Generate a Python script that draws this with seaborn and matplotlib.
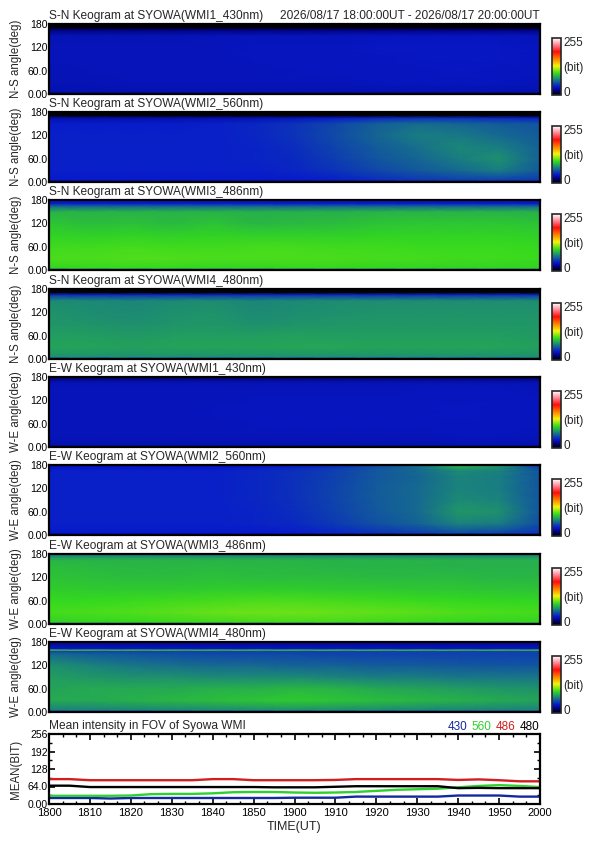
import matplotlib
matplotlib.use("Agg")
import matplotlib.pyplot as plt
from matplotlib.colors import LinearSegmentedColormap
from matplotlib.ticker import AutoMinorLocator, MultipleLocator
import seaborn as sns
import numpy as np
import pandas as pd

sns.set_theme(style="ticks")
plt.rcParams['font.family'] = ['Liberation Sans', 'DejaVu Sans']

# ---- data ----
# keogram grid nodes: time in minutes after 18:00 UT, angle in degrees
TIME_NODES = [0, 10, 20, 30, 40, 50, 60, 70, 80, 90, 100, 110, 120]
ANGLE_NODES = [0, 6, 30, 60, 90, 120, 150, 165, 171, 180]
ANGLE_NODES_EW4 = [0, 6, 30, 60, 90, 120, 150, 157, 160, 163, 171, 180]

# rows go from 0 deg (bottom) to 180 deg (top)
SN_430 = [
    [18, 18, 18, 18, 18, 18, 18, 18, 18, 18, 18, 18, 18],
    [32, 32, 32, 32, 32, 32, 32, 32, 32, 32, 32, 32, 32],
    [33, 33, 34, 34, 34, 34, 34, 34, 35, 35, 35, 35, 34],
    [33, 34, 34, 34, 34, 34, 35, 35, 35, 35, 36, 35, 35],
    [34, 34, 34, 34, 34, 35, 35, 35, 35, 36, 36, 36, 35],
    [34, 34, 34, 34, 34, 35, 35, 35, 36, 36, 36, 36, 35],
    [33, 33, 33, 33, 34, 34, 34, 34, 35, 35, 35, 35, 34],
    [20, 20, 20, 20, 20, 20, 20, 20, 20, 20, 20, 20, 20],
    [2, 2, 2, 2, 2, 2, 2, 2, 2, 2, 2, 2, 2],
    [0, 0, 0, 0, 0, 0, 0, 0, 0, 0, 0, 0, 0],
]
SN_560 = [
    [15, 15, 15, 15, 15, 15, 15, 15, 15, 18, 18, 18, 18],
    [38, 38, 38, 38, 38, 38, 38, 40, 44, 47, 50, 50, 48],
    [40, 40, 40, 40, 40, 40, 42, 46, 52, 57, 62, 68, 58],
    [40, 40, 40, 40, 40, 41, 43, 49, 56, 61, 68, 74, 60],
    [40, 40, 40, 40, 40, 41, 44, 51, 58, 64, 71, 68, 60],
    [40, 40, 40, 40, 40, 42, 46, 53, 61, 68, 67, 62, 58],
    [39, 39, 39, 39, 40, 42, 46, 52, 59, 63, 61, 58, 56],
    [30, 30, 30, 30, 31, 32, 34, 38, 42, 44, 44, 42, 40],
    [2, 2, 2, 2, 2, 2, 2, 2, 2, 2, 2, 2, 2],
    [0, 0, 0, 0, 0, 0, 0, 0, 0, 0, 0, 0, 0],
]
SN_486 = [
    [55, 55, 55, 55, 55, 55, 55, 55, 55, 55, 55, 55, 55],
    [96, 97, 97, 97, 96, 96, 97, 97, 96, 96, 95, 95, 95],
    [101, 101, 102, 102, 101, 101, 101, 101, 100, 100, 99, 99, 98],
    [99, 99, 100, 99, 99, 100, 100, 99, 99, 98, 98, 98, 97],
    [95, 94, 95, 94, 95, 94, 94, 94, 95, 95, 95, 95, 94],
    [91, 88, 89, 87, 90, 86, 87, 88, 90, 91, 91, 91, 90],
    [85, 85, 85, 85, 85, 84, 84, 84, 85, 85, 85, 85, 84],
    [60, 60, 60, 60, 60, 60, 60, 60, 60, 60, 60, 60, 60],
    [40, 40, 40, 40, 40, 40, 40, 40, 40, 40, 40, 40, 40],
    [32, 32, 32, 32, 32, 32, 32, 32, 32, 32, 32, 32, 32],
]
SN_480 = [
    [40, 40, 40, 40, 40, 40, 40, 40, 40, 40, 40, 40, 40],
    [74, 74, 74, 74, 74, 74, 74, 74, 74, 74, 74, 74, 74],
    [80, 80, 79, 80, 80, 80, 81, 81, 80, 80, 80, 80, 79],
    [78, 78, 77, 78, 78, 78, 79, 78, 78, 78, 78, 78, 77],
    [76, 75, 74, 75, 76, 74, 75, 76, 76, 76, 76, 76, 76],
    [75, 73, 72, 74, 75, 72, 73, 74, 75, 75, 75, 75, 75],
    [73, 72, 71, 72, 73, 71, 72, 73, 73, 73, 73, 73, 73],
    [45, 45, 45, 45, 45, 45, 45, 45, 45, 45, 45, 45, 45],
    [3, 3, 3, 3, 3, 3, 3, 3, 3, 3, 3, 3, 3],
    [0, 0, 0, 0, 0, 0, 0, 0, 0, 0, 0, 0, 0],
]
EW_430 = [
    [20, 20, 20, 20, 20, 20, 20, 20, 20, 20, 20, 20, 20],
    [32, 32, 32, 32, 32, 32, 32, 32, 32, 32, 32, 32, 32],
    [34, 34, 34, 34, 34, 34, 34, 34, 34, 34, 35, 35, 34],
    [34, 34, 34, 34, 34, 35, 35, 35, 35, 35, 35, 35, 35],
    [34, 34, 34, 34, 35, 35, 35, 35, 35, 35, 36, 35, 35],
    [34, 34, 34, 34, 34, 35, 35, 35, 35, 35, 35, 35, 35],
    [34, 34, 34, 34, 34, 34, 34, 34, 34, 35, 35, 35, 34],
    [33, 33, 33, 33, 33, 33, 33, 33, 33, 33, 33, 33, 33],
    [28, 28, 28, 28, 28, 28, 28, 28, 28, 28, 28, 28, 28],
    [15, 15, 15, 15, 15, 15, 15, 15, 15, 15, 15, 15, 15],
]
EW_560 = [
    [16, 16, 16, 16, 16, 16, 16, 16, 16, 16, 16, 16, 16],
    [38, 38, 38, 38, 38, 38, 39, 42, 46, 49, 54, 52, 46],
    [40, 40, 40, 40, 40, 41, 43, 48, 55, 60, 70, 68, 54],
    [40, 40, 40, 40, 40, 41, 44, 50, 57, 62, 76, 74, 56],
    [40, 40, 40, 40, 40, 42, 45, 51, 58, 62, 72, 70, 56],
    [40, 40, 40, 40, 40, 42, 45, 51, 58, 62, 70, 68, 56],
    [40, 40, 40, 40, 40, 42, 45, 50, 57, 61, 70, 68, 56],
    [40, 40, 40, 40, 40, 42, 45, 50, 57, 62, 72, 69, 56],
    [38, 38, 38, 38, 38, 40, 43, 48, 56, 63, 78, 72, 52],
    [32, 32, 32, 32, 32, 34, 37, 42, 52, 62, 86, 76, 46],
]
EW_486 = [
    [60, 60, 60, 60, 60, 60, 60, 60, 60, 60, 60, 60, 60],
    [95, 96, 97, 98, 99, 100, 100, 100, 99, 98, 97, 96, 96],
    [100, 101, 102, 104, 106, 107, 107, 106, 105, 104, 102, 101, 100],
    [97, 97, 98, 99, 100, 101, 101, 100, 99, 98, 97, 96, 96],
    [93, 92, 92, 92, 93, 93, 93, 92, 92, 91, 91, 90, 90],
    [90, 89, 88, 88, 89, 88, 88, 88, 87, 87, 87, 86, 86],
    [88, 87, 86, 86, 87, 86, 86, 85, 85, 85, 84, 84, 84],
    [85, 85, 85, 85, 85, 85, 85, 85, 85, 85, 84, 84, 84],
    [78, 78, 78, 78, 78, 78, 78, 78, 78, 78, 78, 78, 78],
    [66, 66, 66, 66, 66, 66, 66, 66, 66, 66, 66, 66, 66],
]
EW_480 = [
    [40, 40, 40, 40, 40, 40, 40, 40, 40, 40, 40, 40, 40],
    [70, 70, 71, 72, 73, 74, 75, 74, 73, 72, 71, 70, 70],
    [82, 82, 84, 86, 88, 90, 92, 90, 88, 86, 84, 82, 80],
    [80, 82, 82, 82, 84, 84, 86, 85, 82, 80, 78, 76, 75],
    [78, 76, 74, 74, 72, 72, 72, 70, 68, 68, 66, 66, 66],
    [74, 70, 66, 64, 62, 62, 60, 60, 58, 58, 57, 56, 56],
    [62, 58, 56, 54, 52, 52, 52, 50, 50, 50, 50, 50, 50],
    [50, 50, 50, 50, 50, 50, 50, 50, 50, 50, 50, 50, 50],
    [100, 100, 100, 100, 100, 100, 100, 100, 100, 100, 100, 100, 100],
    [36, 36, 36, 36, 36, 36, 36, 36, 36, 36, 36, 36, 36],
    [30, 30, 30, 30, 30, 30, 30, 30, 30, 30, 30, 30, 30],
    [26, 26, 26, 26, 26, 26, 26, 26, 26, 26, 26, 26, 26],
]

KEO_TITLES = [
    "S-N Keogram at SYOWA(WMI1_430nm)",
    "S-N Keogram at SYOWA(WMI2_560nm)",
    "S-N Keogram at SYOWA(WMI3_486nm)",
    "S-N Keogram at SYOWA(WMI4_480nm)",
    "E-W Keogram at SYOWA(WMI1_430nm)",
    "E-W Keogram at SYOWA(WMI2_560nm)",
    "E-W Keogram at SYOWA(WMI3_486nm)",
    "E-W Keogram at SYOWA(WMI4_480nm)",
]
KEO_YLABELS = ["N-S angle(deg)"] * 4 + ["W-E angle(deg)"] * 4
KEO_DATA = [SN_430, SN_560, SN_486, SN_480, EW_430, EW_560, EW_486, EW_480]
KEO_ANGLES = [ANGLE_NODES] * 7 + [ANGLE_NODES_EW4]

ANGLE_TICKS = [0, 60, 120, 180]
ANGLE_TICKLABELS = ["0.00", "60.0", "120", "180"]

# mean intensity in FOV, every 5 minutes
TIME_MEAN = [0, 5, 10, 15, 20, 25, 30, 35, 40, 45, 50, 55, 60,
             65, 70, 75, 80, 85, 90, 95, 100, 105, 110, 115, 120]
MEAN_430 = [22, 22, 22, 20, 22, 22, 22, 22, 22, 22, 22, 22, 23,
            23, 23, 27, 27, 27, 27, 27, 31, 31, 31, 27, 27]
MEAN_560 = [30, 30, 30, 30, 31, 36, 37, 37, 39, 43, 44, 44, 42,
            41, 42, 44, 48, 52, 54, 56, 61, 66, 69, 66, 62]
MEAN_486 = [91, 91, 87, 87, 87, 87, 87, 87, 91, 91, 87, 87, 87,
            87, 88, 91, 91, 91, 91, 91, 88, 90, 87, 83, 83]
MEAN_480 = [67, 67, 62, 62, 62, 62, 62, 62, 62, 62, 62, 61, 61,
            61, 63, 65, 65, 65, 65, 65, 58, 59, 58, 58, 58]

MEAN_TICKS = [0, 64, 128, 192, 256]
MEAN_TICKLABELS = ["0.00", "64.0", "128", "192", "256"]
TIME_TICKS = [0, 10, 20, 30, 40, 50, 60, 70, 80, 90, 100,
              110, 120]
TIME_TICKLABELS = ["1800", "1810", "1820", "1830", "1840", "1850", "1900",
                   "1910", "1920", "1930", "1940", "1950", "2000"]
WAVELENGTHS = ["430", "560", "486", "480"]
LINE_COLORS = ["#1428a0", "#2ed22e", "#d21e1e", "#000000"]

# ---- colour table: black -> blue -> green -> yellow -> red -> white ----
keo_cmap = LinearSegmentedColormap.from_list("keo", [
    (0.00, (0, 0, 0)),
    (0.07, (0, 0, 0.45)),
    (0.15, (0.03, 0.1, 0.8)),
    (0.27, (0.1, 0.5, 0.5)),
    (0.38, (0.2, 0.85, 0.12)),
    (0.51, (0.95, 0.95, 0.05)),
    (0.62, (1, 0.55, 0)),
    (0.76, (1, 0.05, 0.05)),
    (0.90, (1, 0.6, 0.65)),
    (1.00, (1, 1, 1)),
])

W, H = 595, 842
fig = plt.figure(figsize=(W / 100, H / 100), dpi=100, facecolor='white')


def add_px_axes(left, top, right, bottom):
    return fig.add_axes([left / W, 1 - bottom / H, (right - left) / W, (bottom - top) / H])


def frame(ax):
    for s in ax.spines.values():
        s.set_linewidth(1.6)
        s.set_color('black')
    ax.tick_params(which='both', direction='in', top=True, right=True,
                   colors='black', labelsize=7.5, pad=1)
    ax.tick_params(which='major', length=4, width=1.2)
    ax.tick_params(which='minor', length=2.5, width=1.0)


AX_L, AX_R = 49, 540
KEO_TOPS = [24, 112, 200, 289, 377, 465, 554, 642]
KEO_H = 70
TITLE_FS = 8.6
LABEL_FS = 8.3

for i, top in enumerate(KEO_TOPS):
    ax = add_px_axes(AX_L, top, AX_R, top + KEO_H)
    mesh = ax.pcolormesh(TIME_NODES, KEO_ANGLES[i], np.array(KEO_DATA[i], dtype=float),
                         shading='gouraud', cmap=keo_cmap, vmin=0, vmax=255, rasterized=True)
    ax.set_xlim(0, 120)
    ax.set_ylim(0, 180)
    ax.set_yticks(ANGLE_TICKS)
    ax.set_yticklabels(ANGLE_TICKLABELS)
    ax.yaxis.set_minor_locator(AutoMinorLocator(2))
    ax.xaxis.set_major_locator(MultipleLocator(10))
    ax.xaxis.set_minor_locator(AutoMinorLocator(3))
    ax.set_xticklabels([])
    frame(ax)
    ax.annotate(KEO_TITLES[i], xy=(0, 1), xycoords='axes fraction', xytext=(0, 1.5),
                textcoords='offset points', ha='left', va='bottom', fontsize=TITLE_FS)
    if i == 0:
        ax.annotate("2026/08/17 18:00:00UT - 2026/08/17 20:00:00UT", xy=(1, 1),
                    xycoords='axes fraction', xytext=(0, 1.5), textcoords='offset points',
                    ha='right', va='bottom', fontsize=TITLE_FS)
    fig.text(16 / W, 1 - (top + KEO_H / 2) / H, KEO_YLABELS[i], rotation=90,
             ha='center', va='center', fontsize=LABEL_FS)

    cax = add_px_axes(552, top + 14, 561, top + KEO_H + 1)
    cb = fig.colorbar(mesh, cax=cax)
    cb.outline.set_linewidth(1.2)
    cb.set_ticks([238, 127, 16])
    cb.set_ticklabels(["255", "(bit)", "0"])
    cax.tick_params(length=0, pad=1.5, labelsize=8.5)

# ---- mean intensity panel ----
ax = add_px_axes(AX_L, 734, AX_R, 804)
mean_df = pd.DataFrame({
    "time": TIME_MEAN * 4,
    "mean": MEAN_430 + MEAN_560 + MEAN_486 + MEAN_480,
    "wl": [w for w in WAVELENGTHS for _ in TIME_MEAN],
})
sns.lineplot(data=mean_df, x="time", y="mean", hue="wl", palette=LINE_COLORS,
             hue_order=WAVELENGTHS, linewidth=1.7, legend=False, ax=ax)
ax.set_xlim(0, 120)
ax.set_ylim(0, 256)
ax.set_yticks(MEAN_TICKS)
ax.set_yticklabels(MEAN_TICKLABELS)
ax.yaxis.set_minor_locator(AutoMinorLocator(2))
ax.set_xticks(TIME_TICKS)
ax.set_xticklabels(TIME_TICKLABELS)
ax.xaxis.set_minor_locator(AutoMinorLocator(3))
ax.set_xlabel("")
ax.set_ylabel("")
frame(ax)
ax.tick_params(axis='x', labelsize=8, pad=3)
ax.annotate("Mean intensity in FOV of Syowa WMI", xy=(0, 1), xycoords='axes fraction',
            xytext=(0, 1.5), textcoords='offset points', ha='left', va='bottom', fontsize=TITLE_FS)
fig.text(16 / W, 1 - 769 / H, "MEAN(BIT)", rotation=90, ha='center', va='center', fontsize=LABEL_FS)
fig.text(0.5 * (AX_L + AX_R) / W, 1 - 827 / H, "TIME(UT)", ha='center', va='center', fontsize=9)

legend_right = [467, 491, 515, 539]
for wl, col, xr in zip(WAVELENGTHS, LINE_COLORS, legend_right):
    fig.text(xr / W, 1 - 727 / H, wl, color=col, ha='right', va='center', fontsize=8.5)

fig.savefig("out.png", dpi=100, facecolor='white')
